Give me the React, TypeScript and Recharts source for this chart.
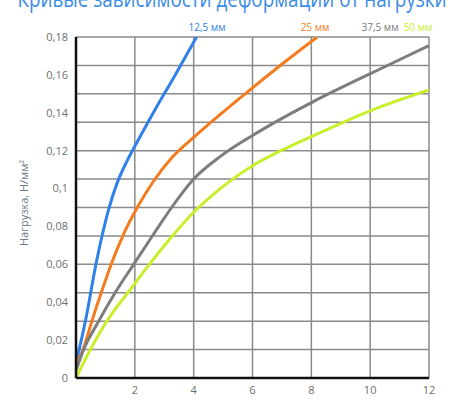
import React from 'react';
import { LineChart, Line, XAxis, YAxis, CartesianGrid } from 'recharts';

// подписи и цвета серий
const seriesNames = ['12,5 мм', '25 мм', '37,5 мм', '50 мм'];
const seriesColors = ['#2f80e8', '#f47b1e', '#7d7d7d', '#c8ef2b'];

const xTicks = [2, 4, 6, 8, 10, 12];
const yTicks = [0, 0.02, 0.04, 0.06, 0.08, 0.1, 0.12, 0.14, 0.16, 0.18];
// горизонтальная сетка идёт не по подписям, а с шагом 0,015
const gridLevels = [0.015, 0.03, 0.045, 0.06, 0.075, 0.09, 0.105, 0.12, 0.135, 0.15, 0.165, 0.18];

// деформация (x) и нагрузка (y)
const curve125 = [
  { x: 0, y: 0.008 }, { x: 0.32, y: 0.03 }, { x: 0.69, y: 0.061 }, { x: 0.9, y: 0.076 },
  { x: 1.11, y: 0.089 }, { x: 1.4, y: 0.103 }, { x: 1.75, y: 0.115 }, { x: 2.2, y: 0.128 },
  { x: 2.7, y: 0.142 }, { x: 3.3, y: 0.158 }, { x: 4.1, y: 0.18 },
];
const curve25 = [
  { x: 0, y: 0.007 }, { x: 0.24, y: 0.015 }, { x: 0.54, y: 0.03 }, { x: 0.88, y: 0.046 },
  { x: 1.22, y: 0.061 }, { x: 1.62, y: 0.076 }, { x: 2.12, y: 0.091 }, { x: 2.64, y: 0.104 },
  { x: 3.3, y: 0.117 }, { x: 4, y: 0.127 }, { x: 5.75, y: 0.15 }, { x: 7.03, y: 0.166 },
  { x: 8.2, y: 0.18 },
];
const curve375 = [
  { x: 0, y: 0.004 }, { x: 0.26, y: 0.015 }, { x: 0.77, y: 0.03 }, { x: 1.33, y: 0.045 },
  { x: 1.96, y: 0.06 }, { x: 2.64, y: 0.076 }, { x: 3.25, y: 0.09 }, { x: 4, y: 0.105 },
  { x: 4.91, y: 0.117 }, { x: 6, y: 0.128 }, { x: 6.88, y: 0.136 }, { x: 8.02, y: 0.1455 },
  { x: 10.73, y: 0.166 }, { x: 12, y: 0.1755 },
];
const curve50 = [
  { x: 0, y: 0 }, { x: 0.49, y: 0.015 }, { x: 1.05, y: 0.03 }, { x: 1.96, y: 0.049 },
  { x: 2.52, y: 0.0605 }, { x: 3.09, y: 0.0715 }, { x: 4, y: 0.0875 }, { x: 4.6, y: 0.096 },
  { x: 5.2, y: 0.1035 }, { x: 6, y: 0.112 }, { x: 7.17, y: 0.1215 }, { x: 8.02, y: 0.1275 },
  { x: 10, y: 0.141 }, { x: 12, y: 0.152 },
];
const curves = [curve125, curve25, curve375, curve50];

const labelX = [207, 315, 380, 418];

const fmt = (v: number) => String(v).replace('.', ',');

const App: React.FC = () => {
  return (
    <div
      style={{
        position: 'absolute', left: 0, top: 0, width: 470, height: 400,
        background: '#fff', fontFamily: '"Open Sans", sans-serif', overflow: 'hidden',
      }}
    >
      <LineChart width={470} height={400} margin={{ top: 37, right: 41, bottom: 0, left: 0 }}>
        <CartesianGrid horizontalValues={gridLevels} stroke="#8a8a8a" strokeWidth={1.5} />
        <XAxis
          type="number"
          dataKey="x"
          domain={[0, 12]}
          ticks={xTicks}
          height={22}
          allowDataOverflow
          axisLine={{ stroke: '#111', strokeWidth: 2.5 }}
          tickLine={false}
          tick={{ fill: '#6f6f6f', fontSize: 11 }}
        />
        <YAxis
          type="number"
          domain={[0, 0.18]}
          ticks={yTicks}
          width={76}
          allowDataOverflow
          tickFormatter={fmt}
          axisLine={{ stroke: '#111', strokeWidth: 2.5 }}
          tickLine={false}
          tick={{ fill: '#6f6f6f', fontSize: 11 }}
        />
        {curves.map((c, i) => (
          <Line
            key={seriesNames[i]}
            data={c}
            dataKey="y"
            name={seriesNames[i]}
            type="monotone"
            stroke={seriesColors[i]}
            strokeWidth={3}
            dot={false}
            isAnimationActive={false}
          />
        ))}
      </LineChart>
      <svg
        width={470}
        height={400}
        style={{ position: 'absolute', left: 0, top: 0, pointerEvents: 'none' }}
      >
        <text
          x={232}
          y={7}
          textAnchor="middle"
          fontSize={24}
          fill="#3a8ce4"
          textLength={429}
          lengthAdjust="spacingAndGlyphs"
        >
          Кривые зависимости деформации от нагрузки
        </text>
        <text transform="translate(28,203) rotate(-90)" textAnchor="middle" fontSize={11} fill="#6f7a85">
          Нагрузка, Н/мм²
        </text>
        {seriesNames.map((n, i) => (
          <text key={n} x={labelX[i]} y={31} textAnchor="middle" fontSize={10} fill={seriesColors[i]}>
            {n}
          </text>
        ))}
      </svg>
    </div>
  );
};

export default App;
